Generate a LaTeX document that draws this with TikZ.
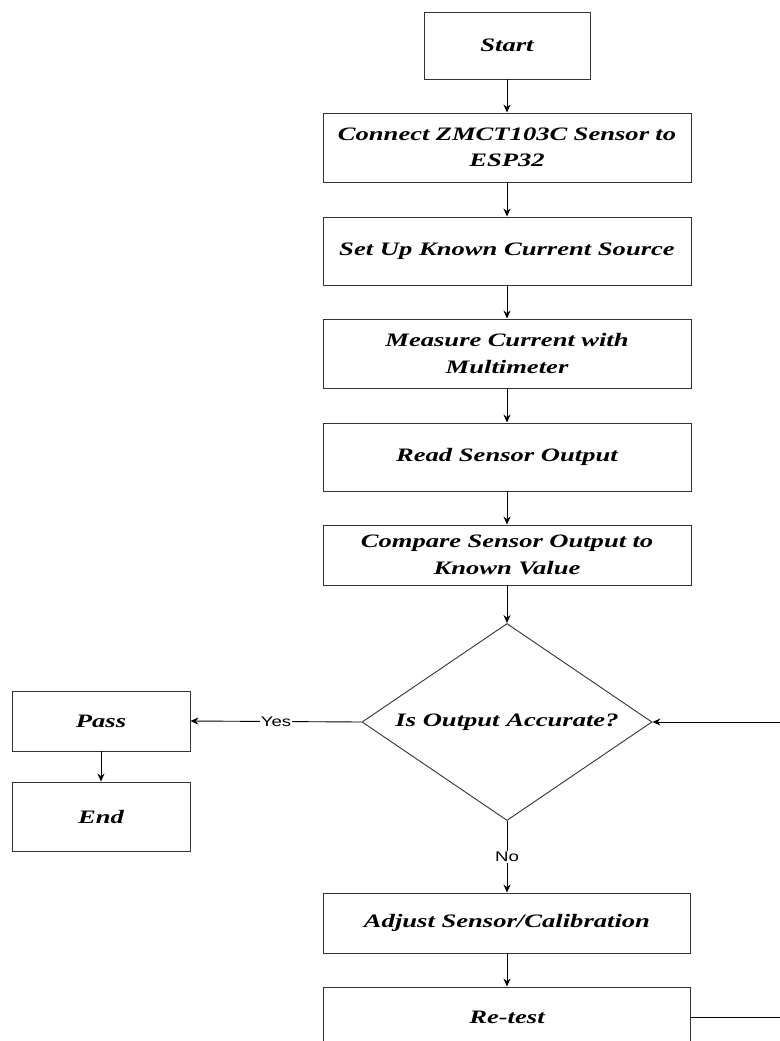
\documentclass[tikz,border=0pt]{standalone}
\usepackage{fontspec}
\setmainfont{Liberation Serif}
\setsansfont{Liberation Sans}
\newfontfamily\boxfont{Liberation Serif}[FakeStretch=1.4]
\newfontfamily\lblfont{Liberation Sans}[FakeStretch=1.33]
\usetikzlibrary{shapes.geometric,arrows.meta}
\begin{document}
\begin{tikzpicture}[x=1pt,y=-1pt,
  procbox/.style={draw=black!80,line width=0.9pt,fill=white,inner sep=0pt,align=center,
    font=\boxfont\bfseries\itshape\fontsize{19}{26.5}\selectfont},
  decbox/.style={draw=black!80,line width=0.9pt,fill=white,shape=diamond,inner sep=0pt,
    minimum width=290pt,minimum height=197pt,aspect=1.47,align=center,
    font=\boxfont\bfseries\itshape\fontsize{19}{26.5}\selectfont},
  arr/.style={draw=black,line width=0.9pt,-{Stealth[length=8pt,width=7pt]}},
  lbl/.style={fill=white,inner sep=1pt,font=\lblfont\fontsize{14}{16}\selectfont}]
\useasboundingbox (0,0) rectangle (779,1041);
\node[procbox,minimum width=166pt,minimum height=67pt] (start) at (507,45.5) {Start};
\node[procbox,minimum width=368pt,minimum height=69pt,text width=360pt] (connect) at (507,147.5) {Connect ZMCT103C Sensor to\\ESP32};
\node[procbox,minimum width=368pt,minimum height=68pt] (setup) at (507,251) {Set Up Known Current Source};
\node[procbox,minimum width=368pt,minimum height=69pt,text width=360pt] (measure) at (507,353.5) {Measure Current with\\Multimeter};
\node[procbox,minimum width=368pt,minimum height=68pt] (read) at (507,457) {Read Sensor Output};
\node[procbox,minimum width=368pt,minimum height=60pt,text width=360pt] (compare) at (507,555) {Compare Sensor Output to\\Known Value};
\node[decbox] (dia) at (507,722) {Is Output Accurate?};
\node[procbox,minimum width=178pt,minimum height=60pt] (pass) at (101,721) {Pass};
\node[procbox,minimum width=178pt,minimum height=69pt] (end) at (101,816.5) {End};
\node[procbox,minimum width=367pt,minimum height=60pt] (adjust) at (507,923) {Adjust Sensor/Calibration};
\node[procbox,minimum width=367pt,minimum height=60pt] (retest) at (507,1017) {Re-test};
\coordinate (loop) at (800,1017);
\draw[arr] (start) -- (connect);
\draw[arr] (connect) -- (setup);
\draw[arr] (setup) -- (measure);
\draw[arr] (measure) -- (read);
\draw[arr] (read) -- (compare);
\draw[arr] (compare) -- (dia);
\draw[arr] (dia.west) -- node[lbl] (yes) {Yes} (pass.east);
\draw[arr] (pass) -- (end);
\draw[arr] (dia.south) -- node[lbl] (no) {No} (adjust.north);
\draw[arr] (adjust) -- (retest);
\draw[arr] (retest.east) -- (loop) |- (dia.east);
\end{tikzpicture}
\end{document}
